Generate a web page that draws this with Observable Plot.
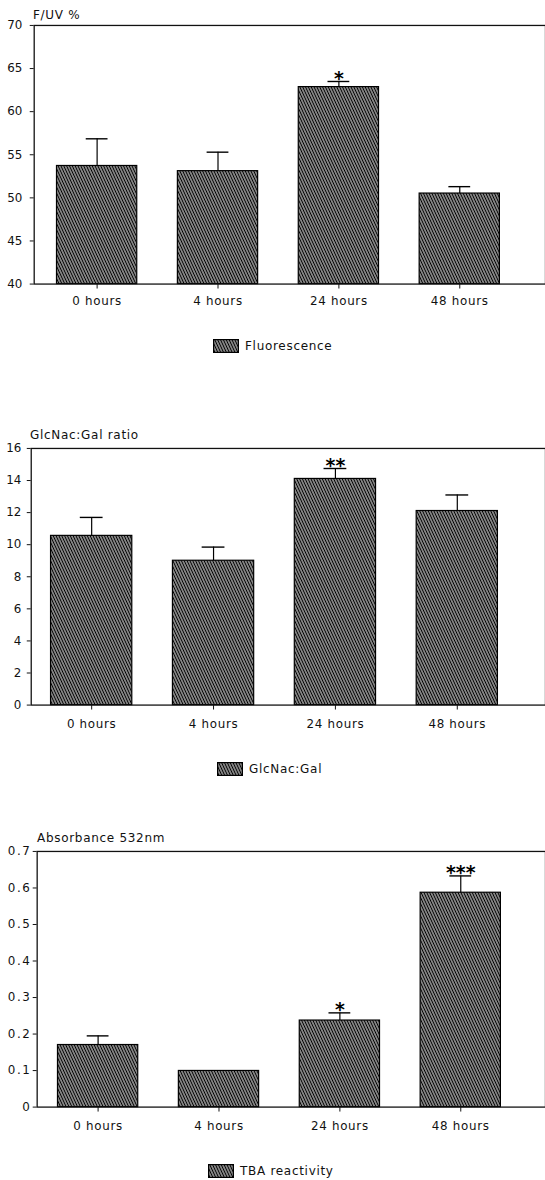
<!DOCTYPE html>
<html><head><meta charset="utf-8">
<script src="https://cdn.jsdelivr.net/npm/d3@7"></script>
<script src="https://cdn.jsdelivr.net/npm/@observablehq/plot@0.6"></script>
<style>
html,body{margin:0;padding:0;background:#fff;overflow:hidden}
#root{position:relative;width:545px;height:1180px;overflow:hidden;font-family:"DejaVu Sans",sans-serif;color:#111}
.title,.legend{position:absolute;font-size:12px;letter-spacing:.7px;white-space:nowrap;line-height:14px}
.legend{display:flex;align-items:center;gap:6px}
.chart{position:absolute;left:0}
[aria-label="x-axis tick label"] text{letter-spacing:.7px}
.c3 [aria-label="y-axis tick label"] text{letter-spacing:1.5px}
</style></head><body>
<svg width="0" height="0" style="position:absolute">
<defs><pattern id="hatch" width="2.6" height="3" patternUnits="userSpaceOnUse" patternTransform="rotate(-25)"><rect x="-1" y="-1" width="5" height="5" fill="#fff"/><line x1="1.3" y1="-1" x2="1.3" y2="4" stroke="#000" stroke-width="1.7"/></pattern></defs></svg>
<div id="root"></div>
<script>
const hours = ["0 hours", "4 hours", "24 hours", "48 hours"];

const fluorescence = [53.7, 53.1, 62.85, 50.5];
const fluorescenceErr = [56.85, 55.3, 63.5, 51.3];
const fluorescenceStars = ["", "", "*", ""];
const fluorescenceTicks = [40, 45, 50, 55, 60, 65, 70];

const glcnacGal = [10.55, 9.0, 14.1, 12.1];
const glcnacGalErr = [11.7, 9.85, 14.75, 13.1];
const glcnacGalStars = ["", "", "**", ""];
const glcnacGalTicks = [0, 2, 4, 6, 8, 10, 12, 14, 16];

const tba = [0.17, 0.099, 0.237, 0.587];
const tbaErr = [0.195, null, 0.258, 0.633];
const tbaStars = ["", "", "*", "***"];
const tbaTicks = [0, 0.1, 0.2, 0.3, 0.4, 0.5, 0.6, 0.7];

const root = document.getElementById("root");

function swatch() {
  const ns = "http://www.w3.org/2000/svg";
  const s = document.createElementNS(ns, "svg");
  s.setAttribute("width", 26); s.setAttribute("height", 14);
  const r = document.createElementNS(ns, "rect");
  r.setAttribute("x", 0.6); r.setAttribute("y", 0.6);
  r.setAttribute("width", 24.8); r.setAttribute("height", 12.8);
  r.setAttribute("fill", "url(#hatch)"); r.setAttribute("stroke", "#000"); r.setAttribute("stroke-width", 1.2);
  s.appendChild(r);
  return s;
}

function makeChart(o) {
  const data = hours.map((h, i) => ({h, v: o.values[i], e: o.errs[i], s: o.stars[i]}));
  const withErr = data.filter(d => d.e != null);
  const withStar = data.filter(d => d.s);
  const capInset = (82 - 23) / 2;
  const chart = Plot.plot({
    className: o.cls,
    width: 550, height: o.height,
    marginTop: 5, marginBottom: 30, marginLeft: o.left, marginRight: 0,
    style: {fontFamily: "DejaVu Sans", fontSize: "12px", color: "#111", background: "transparent", overflow: "visible"},
    x: {type: "band", domain: hours, range: o.xRange, paddingInner: 0.332, paddingOuter: 0, axis: null, label: null},
    y: {domain: o.domain, axis: null, label: null},
    marks: [
      Plot.barY(data, {x: "h", y1: o.domain[0], y2: "v", fill: "url(#hatch)", stroke: "#000", strokeWidth: 1.2}),
      Plot.ruleX(withErr, {x: "h", y1: "v", y2: "e", stroke: "#000", strokeWidth: 1.2}),
      Plot.tickY(withErr, {x: "h", y: "e", insetLeft: capInset, insetRight: capInset, stroke: "#000", strokeWidth: 1.4}),
      Plot.text(withStar, {x: "h", y: "e", text: "s", dy: -3, fontSize: 19, fontWeight: "bold", fill: "#000"}),
      Plot.frame({stroke: "#111", strokeWidth: 1.3}),
      Plot.axisY({ticks: o.ticks, tickSize: 4, tickPadding: o.tickPadY, tickFormat: o.fmt, label: null}),
      Plot.axisX({tickSize: 5, tickPadding: o.tickPadX, label: null})
    ]
  });
  chart.classList.add("chart");
  chart.style.top = o.top + "px";
  chart.style.position = "absolute";
  root.appendChild(chart);

  const t = document.createElement("div");
  t.className = "title"; t.textContent = o.title;
  t.style.left = o.titleX + "px"; t.style.top = o.titleY + "px";
  root.appendChild(t);

  const l = document.createElement("div");
  l.className = "legend";
  l.style.left = o.legendX + "px"; l.style.top = o.legendY + "px";
  l.appendChild(swatch());
  const sp = document.createElement("span"); sp.textContent = o.legend;
  l.appendChild(sp);
  root.appendChild(l);
}

makeChart({values: fluorescence, errs: fluorescenceErr, stars: fluorescenceStars, domain: [40, 70], ticks: fluorescenceTicks,
  fmt: d => String(d), top: 20, height: 296, left: 34, xRange: [55, 505.5], tickPadY: 8, tickPadX: 8,
  title: "F/UV %", titleX: 33, titleY: 8, legend: "Fluorescence", legendX: 213, legendY: 339, cls: "c1"});

makeChart({values: glcnacGal, errs: glcnacGalErr, stars: glcnacGalStars, domain: [0, 16], ticks: glcnacGalTicks,
  fmt: d => String(d), top: 443, height: 294, left: 31, xRange: [51, 503], tickPadY: 6, tickPadX: 10,
  title: "GlcNac:Gal ratio", titleX: 30, titleY: 428, legend: "GlcNac:Gal", legendX: 217, legendY: 762, cls: "c2"});

makeChart({values: tba, errs: tbaErr, stars: tbaStars, domain: [0, 0.7], ticks: tbaTicks,
  fmt: d => d === 0 ? "0" : d3.format(".1f")(d), top: 846, height: 293, left: 37, xRange: [57, 506], tickPadY: 2, tickPadX: 9.5,
  title: "Absorbance 532nm", titleX: 37, titleY: 831, legend: "TBA reactivity", legendX: 208, legendY: 1164, cls: "c3"});
</script>
</body></html>
